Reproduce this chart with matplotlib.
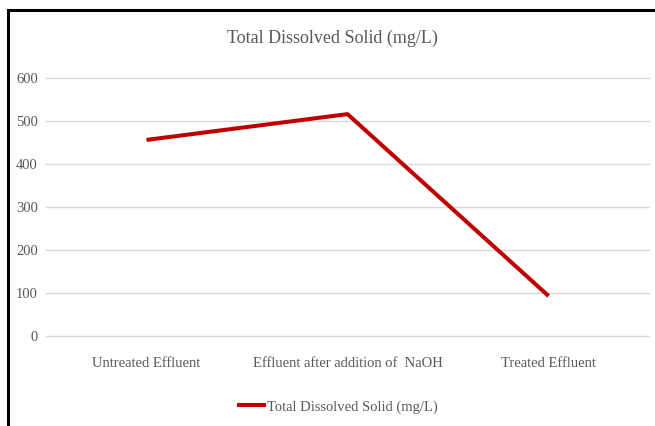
import matplotlib
matplotlib.use('Agg')
import matplotlib.pyplot as plt
from matplotlib.lines import Line2D

# data
categories = ['Untreated Effluent', 'Effluent after addition of  NaOH', 'Treated Effluent']
tds_values = [456, 516, 93]
series_name = 'Total Dissolved Solid (mg/L)'
y_ticks = [0, 100, 200, 300, 400, 500, 600]

plt.rcParams['font.family'] = ['Liberation Serif', 'DejaVu Serif']

fig = plt.figure(figsize=(6.55, 4.26), dpi=100)
ax = fig.add_axes([0.0702, 0.2113, 0.9208, 0.6056])

x = list(range(len(categories)))
line, = ax.plot(x, tds_values, color='#C00000', linewidth=2.9, solid_capstyle='butt',
                label=series_name)

ax.set_xlim(-0.5, len(categories) - 0.5)
ax.set_ylim(0, 600)
ax.set_yticks(y_ticks)
ax.set_xticks(x)
ax.set_xticklabels(categories)
ax.yaxis.grid(True, color='#D9D9D9', linewidth=1)
for gl in ax.get_ygridlines():
    gl.set_clip_on(False)
ax.set_axisbelow(True)
for s in ax.spines.values():
    s.set_visible(False)
ax.tick_params(axis='both', length=0, labelsize=10.5, labelcolor='#595959')
ax.tick_params(axis='y', pad=6)
ax.tick_params(axis='x', pad=15)

fig.text(0.508, 0.911, series_name, ha='center', va='center', fontsize=13, color='#595959')

fig.legend(handles=[line], loc='center', bbox_to_anchor=(0.515, 0.045), frameon=False,
           fontsize=10.5, labelcolor='#595959', handlelength=2.0, handletextpad=0.1)

# border of the chart box
fig.add_artist(Line2D([0.012, 1.0], [0.976, 0.976], color='black', linewidth=2.2,
                      transform=fig.transFigure))
fig.add_artist(Line2D([0.0125, 0.0125], [0.0, 0.977], color='black', linewidth=2.2,
                      transform=fig.transFigure))

plt.savefig('out.png', dpi=100)
